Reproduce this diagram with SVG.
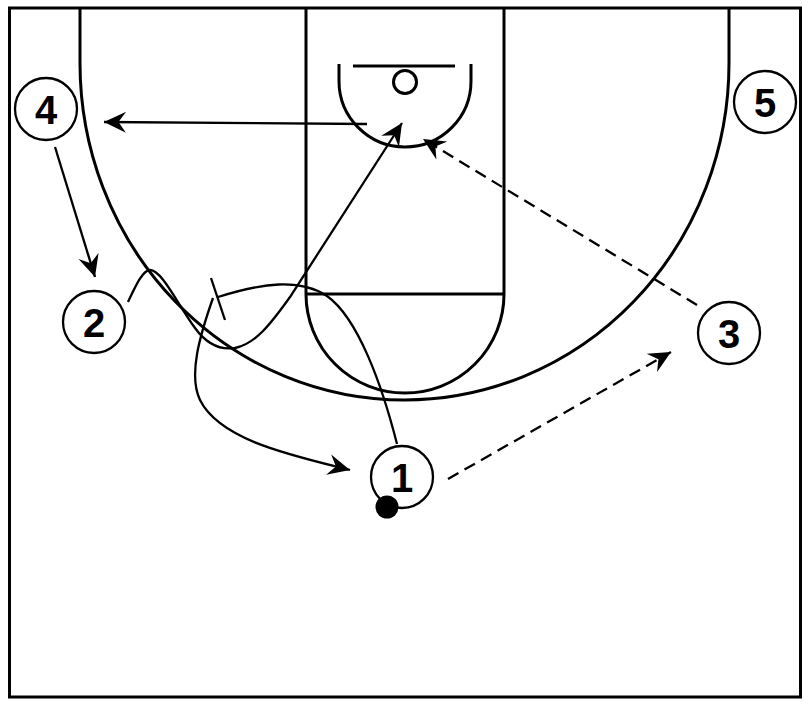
<svg xmlns="http://www.w3.org/2000/svg" width="808" height="704" viewBox="0 0 808 704">
<style>
.court{fill:none;stroke:#000;stroke-width:3}
.mv{fill:none;stroke:#000;stroke-width:2.3}
.pass{fill:none;stroke:#000;stroke-width:2.3;stroke-dasharray:12 7}
.arr{marker-end:url(#ah)}
.pl circle{fill:#fff;stroke:#000;stroke-width:2.3}
.pl text{font-family:"Liberation Sans",Arial,sans-serif;font-weight:bold;font-size:40px;text-anchor:middle;fill:#000}
</style>
<defs>
<marker id="ah" viewBox="-23 -12 25 24" markerWidth="25" markerHeight="24" refX="0" refY="0" orient="auto" markerUnits="userSpaceOnUse">
<path d="M0,0 L-22,-10.5 L-14.5,0 L-22,10.5 z" fill="#000"/>
</marker>
</defs>
<rect width="808" height="704" fill="#fff"/>
<g id="court">
<rect class="court" x="9.5" y="8" width="791" height="689"/>
<path class="court" d="M80,8 L80,63 A324.5,337 0 0 0 729,63 L729,8"/>
<path class="court" d="M306,8 L306,294 M504,8 L504,294 M306,294 L504,294"/>
<path class="court" d="M306,294 A99,99 0 0 0 504,294"/>
<path class="court" d="M339,64 L339,81 A66,66 0 0 0 471,81 L471,64"/>
<path class="court" d="M353,66 L455,66"/>
<circle class="court" cx="405" cy="82" r="11.5" stroke-width="2.6"/>
</g>
<g id="connectors">
<path class="mv arr" d="M55,147 L95,277"/>
<path class="mv arr" d="M367,124 L104,122"/>
<path class="mv arr" d="M128,302 C136,285 143,270 150,270 C162,270 178,305 195,328 C208,346 222,350 235,348 C255,344 270,325 290,297 L402,123"/>
<path class="mv" d="M397,444 C382,385 358,318 327,296 C300,278 262,283 218,297"/>
<path class="mv" d="M211,278 L225,320"/>
<path class="mv arr" d="M213,298 C200,335 188,375 200,400 C220,440 290,455 350,470"/>
<path class="pass arr" d="M448,479 L671,352"/>
<path class="pass arr" d="M697,305 L423,139"/>
</g>
<g id="p4" class="pl"><circle cx="46" cy="109" r="31"/><text x="46" y="124">4</text></g>
<g id="p5" class="pl"><circle cx="765" cy="102" r="31"/><text x="765" y="117">5</text></g>
<g id="p2" class="pl"><circle cx="94" cy="322" r="31"/><text x="94" y="337">2</text></g>
<g id="p3" class="pl"><circle cx="729" cy="333" r="31"/><text x="729" y="348">3</text></g>
<g id="p1" class="pl"><circle cx="402" cy="477" r="31"/><text x="402" y="492">1</text></g>
<g id="ball"><circle cx="387" cy="507" r="11.5" fill="#000"/></g>
</svg>
